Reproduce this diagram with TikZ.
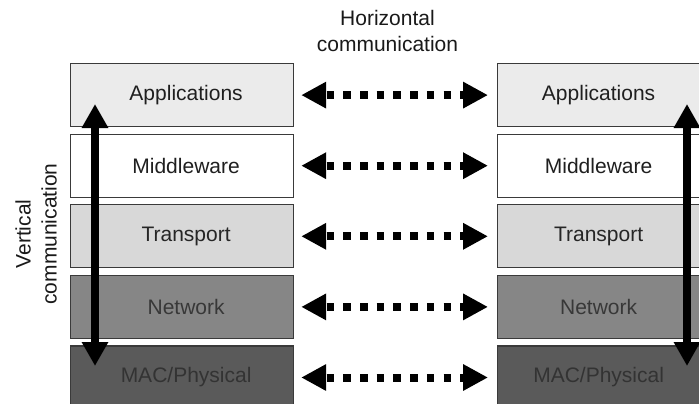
\documentclass[tikz,border=0pt]{standalone}
\usepackage{fontspec}
\setmainfont{Liberation Sans}
\usetikzlibrary{arrows.meta}

\definecolor{appfill}{HTML}{EBEBEB}
\definecolor{midfill}{HTML}{FFFFFF}
\definecolor{trafill}{HTML}{D8D8D8}
\definecolor{netfill}{HTML}{868686}
\definecolor{macfill}{HTML}{5A5A5A}
\definecolor{edge}{HTML}{3A3A3A}

\tikzset{
  layer/.style={draw=edge, line width=1.2pt, rectangle, anchor=north west,
    minimum height=63pt, inner sep=0pt,
    font=\fontsize{21}{25}\selectfont},
  leftlayer/.style={layer, minimum width=223pt,
    execute at begin node=\hspace*{8pt}},
  rightlayer/.style={layer, minimum width=223pt,
    execute at begin node=\hspace*{-21pt}},
  peer/.style={line width=8pt, dash pattern=on 7.5pt off 9.2pt, dash phase=-2pt,
    {Triangle[length=25pt,width=25pt]}-{Triangle[length=25pt,width=25pt]},
    shorten <=7pt, shorten >=9pt},
  stackarrow/.style={line width=8.5pt,
    {Triangle[length=24pt,width=25pt]}-{Triangle[length=24pt,width=25pt]}},
  caption/.style={font=\fontsize{21}{26}\selectfont, align=center, text=black!90}
}

\begin{document}
\begin{tikzpicture}[x=1pt, y=-1pt]
  \useasboundingbox (0,0) rectangle (699,404);

  % protocol stacks, one on each side
  \foreach \name/\txt/\fill/\tcol [count=\i from 0] in
    {app/Applications/appfill/black!88,
     mid/Middleware/midfill/black!88,
     tra/Transport/trafill/black!85,
     net/Network/netfill/black!78,
     mac/MAC\slash Physical/macfill/black!80}
  {
    \node[leftlayer,  fill=\fill, text=\tcol] (\name-l) at (70, 63+70.6*\i) {\txt};
    \node[rightlayer, fill=\fill, text=\tcol] (\name-r) at (497, 63+70.6*\i) {\txt};
    % peer-to-peer exchange between matching layers
    \draw[peer] (\name-l.east) -- (\name-r.west);
  }

  % vertical flow through each stack
  \coordinate (vl-top) at (95,104);
  \coordinate (vl-bot) at (95,366);
  \coordinate (vr-top) at (687,104);
  \coordinate (vr-bot) at (687,366);
  \draw[stackarrow] (vl-top) -- (vl-bot);
  \draw[stackarrow] (vr-top) -- (vr-bot);

  % captions
  \node[caption] (hcap) at (387.5,31) {Horizontal\\communication};
  \node[caption, rotate=90] (vcap) at (36,234) {Vertical\\communication};
\end{tikzpicture}
\end{document}
